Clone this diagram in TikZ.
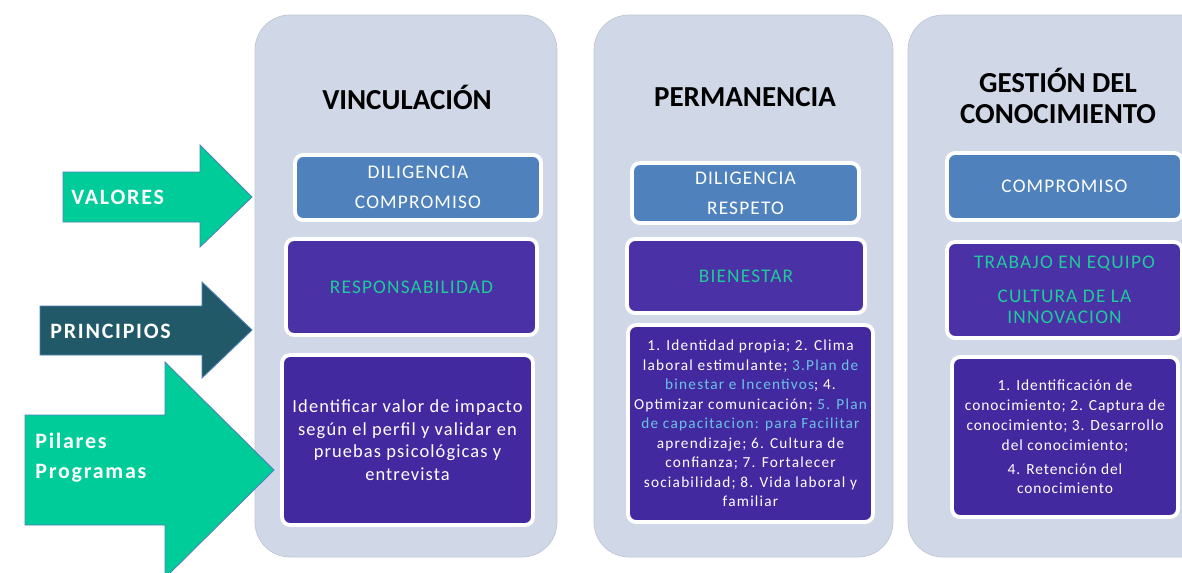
\documentclass[tikz,border=0pt]{standalone}
\usepackage{fontspec}
\setmainfont{Carlito}
\newfontfamily\boxfont[LetterSpace=6]{Carlito}
\newfontfamily\listfont[LetterSpace=8]{Carlito}
\newfontfamily\labelfont[LetterSpace=8]{Carlito}
\usetikzlibrary{positioning}
\definecolor{panelgray}{HTML}{D0D8E8}
\definecolor{boxblue}{HTML}{4F81BD}
\definecolor{boxpurple}{HTML}{4A31A6}
\definecolor{listpurple}{HTML}{43299F}
\definecolor{arrowgreen}{HTML}{00CC99}
\definecolor{arrowteal}{HTML}{215968}
\definecolor{textgreen}{HTML}{1FCB9B}
\definecolor{textcyan}{HTML}{6CC3E6}
\tikzset{>=latex,
  panel/.style={fill=panelgray, draw=panelgray!92!black, line width=0.4pt, rounded corners=0.7cm},
  bigarrow/.style={draw=boxblue, line width=0.5pt},
  arrowlabel/.style={anchor=west, inner sep=0pt, text=white, align=left, font={\labelfont\fontsize{12.5}{17}\selectfont\bfseries}},
  title/.style={align=center, font={\fontsize{16.5}{18}\selectfont\bfseries}},
  valbox/.style={rectangle, rounded corners=0.16cm, draw=white, line width=2.2pt, fill=boxblue, text=white, align=center, inner xsep=2pt, font={\boxfont\fontsize{11}{17}\selectfont}},
  prinbox/.style={valbox, fill=boxpurple, text=textgreen},
  listbox/.style={valbox, fill=listpurple}
}

\begin{document}
\begin{tikzpicture}[x=0.02cm, y=-0.02cm]
  \clip (0,0) rectangle (1182,572);
  \fill[white] (0,0) rectangle (1182,572);
  % columns
  \filldraw[panel] (255,15) rectangle (557,557);
  \filldraw[panel] (594,15) rectangle (893,557);
  \filldraw[panel] (908,15) rectangle (1230,557);
  \node[title] (vinc) at (407,97) {VINCULACIÓN};
  \node[title] (perm) at (745,97) {PERMANENCIA};
  \node[title] (gest) at (1058,96) {GESTIÓN DEL\\CONOCIMIENTO};
  % vinculacion
  \node[valbox, minimum width=4.92cm, minimum height=1.3cm] (val1) at (418,187.5) {DILIGENCIA\\COMPROMISO};
  \node[prinbox, minimum width=5.02cm, minimum height=1.92cm] (prin1) at (411.5,287) {RESPONSABILIDAD};
  \node[listbox, minimum width=5.02cm, minimum height=3.4cm, font={\boxfont\fontsize{10.5}{12.8}\selectfont}] (prog1) at (407.5,440) {Identificar valor de impacto\\según el perfil y validar en\\pruebas psicológicas y\\entrevista};
  % permanencia
  \node[valbox, minimum width=4.54cm, minimum height=1.2cm] (val2) at (745.5,193) {DILIGENCIA\\RESPETO};
  \node[prinbox, minimum width=4.76cm, minimum height=1.48cm] (prin2) at (746,276) {BIENESTAR};
  \node[listbox, minimum width=4.9cm, minimum height=3.94cm, font={\listfont\fontsize{8.7}{11.1}\selectfont}] (prog2) at (750.5,423.5) {1. Identidad propia; 2. Clima\\
    laboral estimulante; \textcolor{textcyan}{3.Plan de}\\
    \textcolor{textcyan}{binestar e Incentivos}; 4.\\
    Optimizar comunicación; \textcolor{textcyan}{5. Plan}\\
    \textcolor{textcyan}{de capacitacion: para Facilitar}\\
    aprendizaje; 6. Cultura de\\
    confianza; 7. Fortalecer\\
    sociabilidad; 8. Vida laboral y\\
    familiar};
  % gestion del conocimiento
  \node[valbox, minimum width=4.7cm, minimum height=1.34cm] (val3) at (1064.5,186.5) {COMPROMISO};
  \node[prinbox, minimum width=4.7cm, minimum height=1.92cm, font={\boxfont\fontsize{11}{12}\selectfont}] (prin3) at (1064.5,290) {TRABAJO EN EQUIPO\\[7pt]CULTURA DE LA\\INNOVACION};
  \node[listbox, minimum width=4.52cm, minimum height=3.2cm, font={\boxfont\fontsize{8.8}{11.3}\selectfont}] (prog3) at (1065,437) {1. Identificación de\\conocimiento; 2. Captura de\\conocimiento; 3. Desarrollo\\del conocimiento;\\[2.3pt]4. Retención del\\conocimiento};
  % arrows
  \draw[bigarrow, fill=arrowgreen] (63,172) -- (200,172) -- (200,145) -- (252,197) -- (200,247) -- (200,222) -- (63,222) -- cycle;
  \node[arrowlabel] (valores) at (71,197) {VALORES};
  \draw[bigarrow, fill=arrowteal] (40,306) -- (202,306) -- (202,282) -- (252,330) -- (202,378) -- (202,355) -- (40,355) -- cycle;
  \node[arrowlabel] (principios) at (50,331) {PRINCIPIOS};
  \draw[bigarrow, fill=arrowgreen] (25,415) -- (165,415) -- (165,362) -- (274,470) -- (165,578) -- (165,525) -- (25,525) -- cycle;
  \node[arrowlabel] (pilares) at (35,458) {Pilares\\Programas};
\end{tikzpicture}
\end{document}
